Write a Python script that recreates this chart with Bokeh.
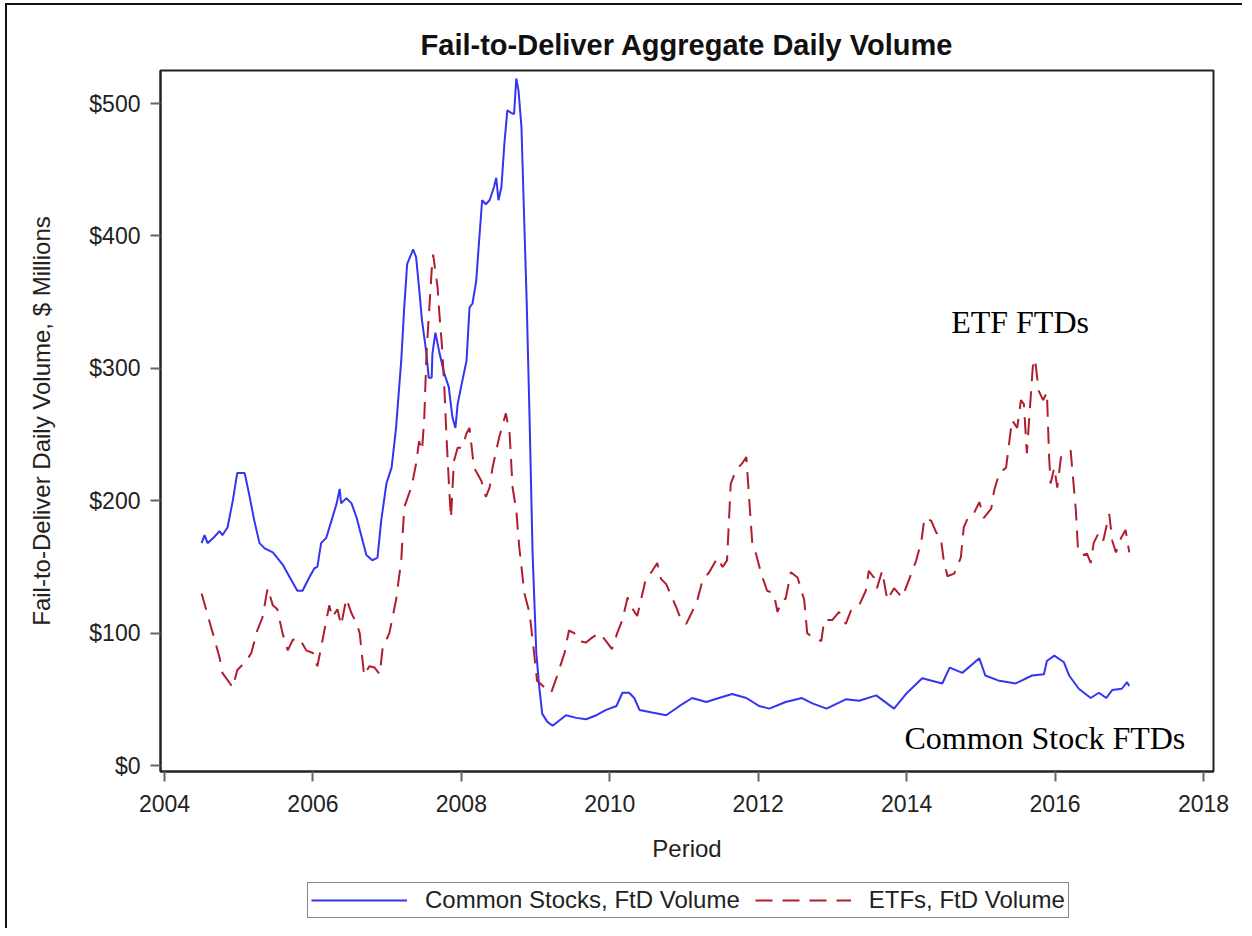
from bokeh.plotting import figure
from bokeh.layouts import column
from bokeh.models import (Range1d, FixedTicker, NumeralTickFormatter, Legend, LegendItem,
                          Label, ColumnDataSource)
from bokeh.embed import file_html
from bokeh.resources import INLINE

# ---- data ----
stock_years = [2004.50, 2004.54, 2004.58, 2004.66, 2004.74, 2004.78, 2004.85, 2004.92, 2004.98, 2005.08,
               2005.14, 2005.21, 2005.28, 2005.35, 2005.46, 2005.59, 2005.71, 2005.79, 2005.86, 2005.95,
               2006.02, 2006.06, 2006.11, 2006.18, 2006.25, 2006.32, 2006.36, 2006.38, 2006.45, 2006.52,
               2006.59, 2006.65, 2006.72, 2006.80, 2006.87, 2006.92, 2006.99, 2007.06, 2007.12, 2007.19,
               2007.23, 2007.27, 2007.33, 2007.35, 2007.39, 2007.43, 2007.47, 2007.53, 2007.56, 2007.60,
               2007.61, 2007.65, 2007.70, 2007.77, 2007.83, 2007.88, 2007.92, 2007.95, 2008.00, 2008.07,
               2008.11, 2008.15, 2008.20, 2008.24, 2008.28, 2008.33, 2008.38, 2008.44, 2008.47, 2008.50,
               2008.54, 2008.58, 2008.62, 2008.67, 2008.71, 2008.74, 2008.77, 2008.81, 2008.85, 2008.88,
               2008.92, 2008.96, 2009.01, 2009.05, 2009.09, 2009.16, 2009.23, 2009.32, 2009.41, 2009.55,
               2009.68, 2009.82, 2009.95, 2010.09, 2010.17, 2010.26, 2010.33, 2010.40, 2010.57, 2010.76,
               2010.94, 2011.11, 2011.30, 2011.47, 2011.65, 2011.84, 2012.01, 2012.15, 2012.37, 2012.59,
               2012.73, 2012.92, 2013.18, 2013.36, 2013.59, 2013.83, 2013.99, 2014.21, 2014.48, 2014.58,
               2014.75, 2014.98, 2015.06, 2015.25, 2015.47, 2015.69, 2015.85, 2015.89, 2015.99, 2016.12,
               2016.19, 2016.32, 2016.48, 2016.59, 2016.69, 2016.77, 2016.90, 2016.97, 2017.00]
stock_values = [168, 174, 168, 172, 177, 174, 180, 200, 221, 221,
                205, 185, 168, 164, 161, 152, 140, 132, 132, 142,
                149, 150, 168, 172, 185, 198, 209, 198, 202, 198,
                187, 174, 159, 155, 157, 185, 213, 225, 255, 306,
                346, 379, 387, 390, 384, 361, 336, 311, 293, 293,
                311, 327, 313, 296, 286, 263, 255, 273, 287, 306,
                346, 349, 366, 397, 427, 424, 427, 437, 444, 427,
                437, 470, 495, 493, 492, 519, 510, 482, 406, 351,
                260, 160, 85, 59, 39, 33, 30, 34, 38, 36,
                35, 38, 42, 45, 55, 55, 51, 42, 40, 38,
                45, 51, 48, 51, 54, 51, 45, 43, 48, 51,
                47, 43, 50, 49, 53, 43, 54, 66, 62, 74,
                70, 81, 68, 64, 62, 68, 69, 79, 83, 78,
                68, 58, 51, 55, 51, 57, 58, 63, 60]

etf_years = [2004.50, 2004.60, 2004.74, 2004.78, 2004.92, 2004.98, 2005.10, 2005.17, 2005.25, 2005.32,
             2005.39, 2005.46, 2005.52, 2005.59, 2005.66, 2005.73, 2005.82, 2005.91, 2006.00, 2006.06,
             2006.13, 2006.22, 2006.26, 2006.33, 2006.38, 2006.45, 2006.52, 2006.59, 2006.63, 2006.69,
             2006.76, 2006.83, 2006.90, 2006.94, 2007.03, 2007.12, 2007.19, 2007.23, 2007.33, 2007.39,
             2007.43, 2007.47, 2007.50, 2007.53, 2007.60, 2007.62, 2007.68, 2007.70, 2007.74, 2007.77,
             2007.80, 2007.84, 2007.86, 2007.90, 2007.95, 2008.01, 2008.07, 2008.11, 2008.17, 2008.22,
             2008.27, 2008.33, 2008.38, 2008.42, 2008.51, 2008.60, 2008.65, 2008.69, 2008.74, 2008.78,
             2008.85, 2008.92, 2008.98, 2009.02, 2009.12, 2009.21, 2009.28, 2009.32, 2009.39, 2009.45,
             2009.52, 2009.59, 2009.68, 2009.77, 2009.86, 2009.95, 2010.03, 2010.10, 2010.17, 2010.24,
             2010.30, 2010.37, 2010.44, 2010.49, 2010.56, 2010.64, 2010.69, 2010.76, 2010.83, 2010.90,
             2010.96, 2011.03, 2011.10, 2011.18, 2011.25, 2011.34, 2011.45, 2011.52, 2011.58, 2011.63,
             2011.70, 2011.78, 2011.84, 2011.88, 2011.92, 2011.97, 2012.04, 2012.12, 2012.21, 2012.26,
             2012.32, 2012.37, 2012.44, 2012.53, 2012.62, 2012.66, 2012.73, 2012.85, 2012.89, 2013.00,
             2013.09, 2013.18, 2013.25, 2013.36, 2013.45, 2013.49, 2013.56, 2013.60, 2013.67, 2013.74,
             2013.83, 2013.94, 2014.03, 2014.13, 2014.20, 2014.24, 2014.33, 2014.40, 2014.46, 2014.50,
             2014.55, 2014.64, 2014.73, 2014.77, 2014.84, 2014.91, 2014.98, 2015.04, 2015.14, 2015.18,
             2015.25, 2015.34, 2015.38, 2015.42, 2015.49, 2015.54, 2015.58, 2015.62, 2015.67, 2015.70,
             2015.73, 2015.78, 2015.84, 2015.89, 2015.92, 2015.94, 2015.99, 2016.03, 2016.08, 2016.16,
             2016.21, 2016.23, 2016.28, 2016.31, 2016.37, 2016.43, 2016.48, 2016.52, 2016.59, 2016.65,
             2016.73, 2016.77, 2016.82, 2016.89, 2016.95, 2017.00]
etf_values = [130, 110, 82, 70, 59, 72, 79, 85, 102, 112,
              134, 121, 118, 100, 87, 95, 96, 87, 85, 75,
              95, 121, 112, 118, 106, 126, 115, 107, 100, 68,
              75, 74, 69, 89, 100, 125, 155, 195, 211, 228,
              245, 238, 262, 311, 374, 386, 361, 344, 316, 286,
              248, 205, 187, 230, 240, 240, 251, 255, 225, 220,
              215, 203, 210, 225, 248, 266, 251, 210, 193, 165,
              130, 115, 85, 64, 59, 55, 66, 73, 85, 102,
              100, 94, 93, 97, 100, 94, 88, 100, 110, 127,
              119, 113, 130, 142, 146, 153, 141, 137, 128, 119,
              110, 107, 115, 125, 140, 146, 157, 150, 155, 213,
              223, 228, 233, 200, 168, 160, 145, 132, 130, 116,
              125, 126, 146, 142, 125, 100, 97, 94, 110, 110,
              116, 107, 117, 121, 132, 147, 142, 134, 147, 125,
              134, 127, 140, 155, 170, 187, 185, 176, 172, 155,
              143, 145, 157, 180, 189, 191, 199, 187, 194, 208,
              221, 225, 243, 261, 255, 276, 273, 236, 277, 301,
              307, 283, 276, 282, 233, 213, 225, 210, 233, 236,
              238, 225, 193, 162, 159, 160, 153, 168, 176, 170,
              190, 170, 161, 172, 178, 161]

x_ticks = [2004, 2006, 2008, 2010, 2012, 2014, 2016, 2018]
y_ticks = [0, 100, 200, 300, 400, 500]

title_text = "Fail-to-Deliver Aggregate Daily Volume"
x_label = "Period"
y_label = "Fail-to-Deliver Daily Volume, $ Millions"
series_names = ["Common Stocks, FtD Volume", "ETFs, FtD Volume"]
annotations = [("ETF FTDs", 2014.6, 335), ("Common Stock FTDs", 2013.97, 21)]

SANS = "Liberation Sans"
SERIF = "Liberation Serif"
BLUE = "#3434f2"
RED = "#b01e2e"
DASH = "17 10"

W = 1235
p = figure(width=W, height=870, output_backend="svg", toolbar_location=None,
           x_range=Range1d(2003.946, 2018.135), y_range=Range1d(-4.5, 525),
           min_border_left=153, min_border_right=29, min_border_top=65, min_border_bottom=104,
           title=title_text)

p.title.align = "center"
p.title.text_font = SANS
p.title.text_font_size = "29px"
p.title.text_font_style = "bold"
p.title.text_color = "#111"
p.title.standoff = 19

p.grid.visible = False
p.outline_line_color = "#222"
p.outline_line_width = 2
p.background_fill_color = "white"
p.border_fill_color = "white"

for ax in (p.xaxis[0], p.yaxis[0]):
    ax.axis_line_color = "#222"
    ax.axis_line_width = 2
    ax.major_tick_line_color = "#666"
    ax.major_tick_line_width = 2
    ax.major_tick_in = 0
    ax.major_tick_out = 10
    ax.minor_tick_line_color = None
    ax.major_label_text_font = SANS
    ax.major_label_text_font_size = "23px"
    ax.major_label_text_color = "#222"
    ax.axis_label_text_font = SANS
    ax.axis_label_text_font_size = "24px"
    ax.axis_label_text_font_style = "normal"
    ax.axis_label_text_color = "#222"

p.xaxis.ticker = FixedTicker(ticks=x_ticks)
p.xaxis.formatter = NumeralTickFormatter(format="0")
p.xaxis.axis_label = x_label
p.xaxis.major_label_standoff = 13
p.xaxis.axis_label_standoff = 20

p.yaxis.ticker = FixedTicker(ticks=y_ticks)
p.yaxis.formatter = NumeralTickFormatter(format="$0")
p.yaxis.axis_label = y_label
p.yaxis.major_label_standoff = 10
p.yaxis.axis_label_standoff = 31

src_stock = ColumnDataSource(dict(x=stock_years, y=stock_values))
src_etf = ColumnDataSource(dict(x=etf_years, y=etf_values))

p.line("x", "y", source=src_stock, line_color=BLUE, line_width=2)
p.line("x", "y", source=src_etf, line_color=RED, line_width=2, line_dash=DASH)

for txt, ax_, ay_ in annotations:
    p.add_layout(Label(x=ax_, y=ay_, text=txt, text_font=SERIF, text_font_size="32px",
                       text_color="#000", text_baseline="alphabetic"))

# ---- legend strip underneath (its own small canvas so nothing is clipped) ----
# the strip's frame is aligned with the main frame by the column layout;
# its ranges keep the series out of view so only the legend shows
lf = figure(width=W, height=53, output_backend="svg", toolbar_location=None,
            x_range=Range1d(0, 1), y_range=Range1d(0, 1),
            min_border_left=0, min_border_right=0, min_border_top=0, min_border_bottom=0)
lf.axis.visible = False
lf.grid.visible = False
lf.outline_line_color = None
lf.border_fill_color = "white"
l_stock = lf.line("x", "y", source=src_stock, line_color=BLUE, line_width=2)
l_etf = lf.line("x", "y", source=src_etf, line_color=RED, line_width=2, line_dash=DASH)
legend = Legend(items=[LegendItem(label=series_names[0], renderers=[l_stock]),
                       LegendItem(label=series_names[1], renderers=[l_etf])],
                orientation="horizontal", location=(147, 10),
                border_line_color="#111", border_line_width=1.5,
                label_text_font=SANS, label_text_font_size="24px", label_text_color="#222",
                glyph_width=96, glyph_height=20, label_height=20, label_standoff=18, spacing=15,
                padding=3, margin=0, background_fill_alpha=1.0)
lf.add_layout(legend, "center")

page = column(p, lf, spacing=0)
page.styles = {"border-top": "2px solid #111", "border-left": "2px solid #111",
               "margin-top": "3px", "margin-left": "5px"}

open("out.html", "w").write(file_html(page, INLINE))
